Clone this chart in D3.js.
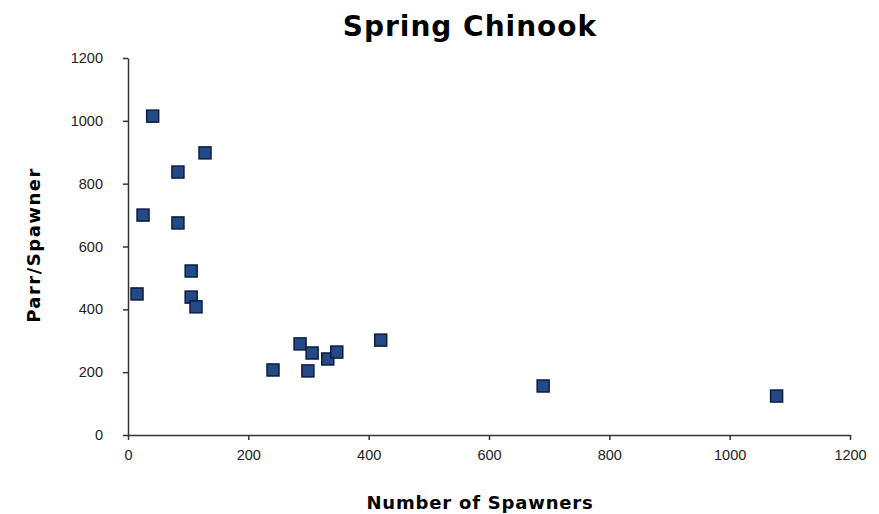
<!DOCTYPE html>
<html><head><meta charset="utf-8">
<script src="https://cdn.jsdelivr.net/npm/d3@7"></script>
<style>body{margin:0;background:#fff;} text{font-family:"Liberation Sans",Arial,sans-serif;}</style>
</head><body>
<svg id="c" width="879" height="514"></svg>
<script>
const spawners = [41, 128, 83, 25, 83, 105, 15, 105, 113, 241, 286, 306, 299, 332, 347, 420, 690, 1078];
const parrPerSpawner = [1015, 898, 837, 700, 675, 522, 449, 439, 408, 207, 290, 261, 204, 242, 264, 302, 156, 124];
const xTicks = [0, 200, 400, 600, 800, 1000, 1200];
const yTicks = [0, 200, 400, 600, 800, 1000, 1200];

const svg = d3.select("#c");
const x = d3.scaleLinear().domain([0, 1200]).range([128, 850]);
const y = d3.scaleLinear().domain([0, 1200]).range([435, 58]);
const fmt = d3.format("d");

const xa = svg.append("g").attr("transform", "translate(0,435)")
  .call(d3.axisBottom(x).tickValues(xTicks).tickFormat(fmt).tickSize(5).tickSizeOuter(0).tickPadding(10));
const ya = svg.append("g").attr("transform", "translate(128,0)")
  .call(d3.axisLeft(y).tickValues(yTicks).tickFormat(fmt).tickSize(5).tickSizeOuter(0).tickPadding(20));
[xa, ya].forEach(a => {
  a.selectAll("path,line").attr("stroke", "#333").attr("stroke-width", 1.5);
  a.selectAll("text").attr("font-size", 14.5).attr("fill", "#222").style("font-family", "'Liberation Sans',Arial,sans-serif");
});

svg.append("g").selectAll("rect").data(spawners).join("rect")
  .attr("x", (d, i) => x(d) - 6).attr("y", (d, i) => y(parrPerSpawner[i]) - 6)
  .attr("width", 12).attr("height", 12)
  .attr("fill", "#234a86").attr("stroke", "#0c1d40").attr("stroke-width", 1.5);

const heavy = "'DejaVu Sans',Verdana,sans-serif";
svg.append("text").attr("x", 470).attr("y", 36).attr("text-anchor", "middle").style("font-family", heavy)
  .attr("font-size", 28).attr("font-weight", "bold").attr("letter-spacing", 1).text("Spring Chinook");
svg.append("text").attr("x", 480).attr("y", 509).attr("text-anchor", "middle").style("font-family", heavy)
  .attr("font-size", 18).attr("font-weight", "bold").attr("letter-spacing", 0.8).text("Number of Spawners");
svg.append("text").attr("transform", "translate(40,245) rotate(-90)").attr("text-anchor", "middle").style("font-family", heavy)
  .attr("font-size", 18).attr("font-weight", "bold").attr("letter-spacing", 1.5).text("Parr/Spawner");
</script>
</body></html>
